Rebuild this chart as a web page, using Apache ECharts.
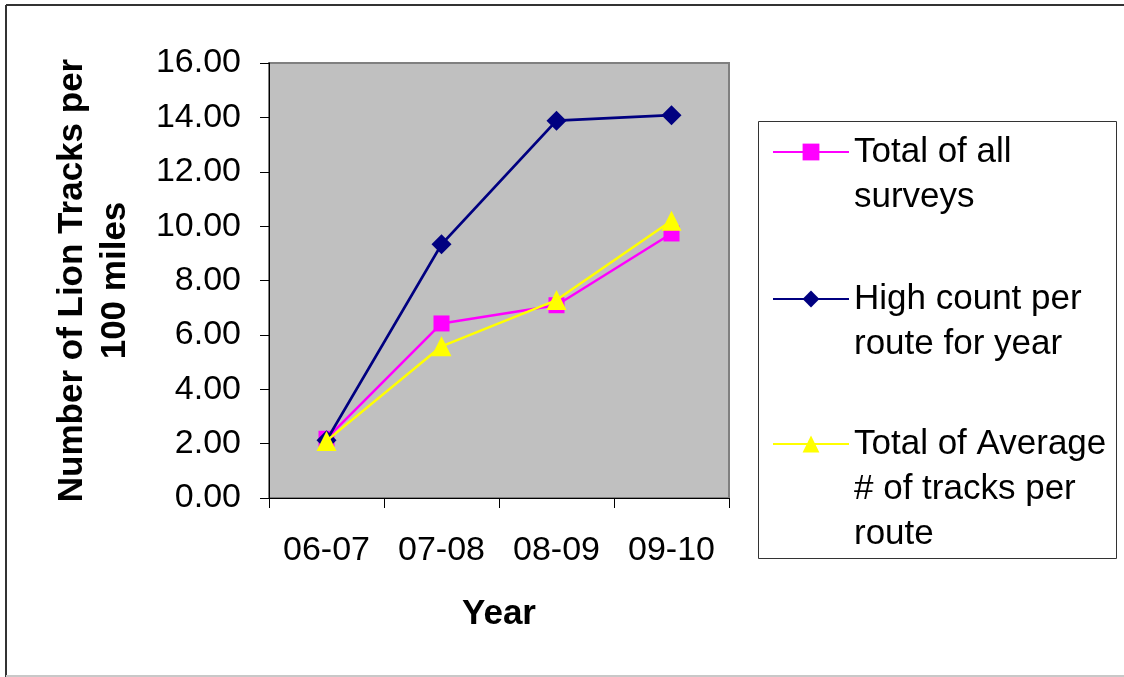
<!DOCTYPE html>
<html>
<head>
<meta charset="utf-8">
<script src="https://cdn.jsdelivr.net/npm/echarts@6/dist/echarts.min.js"></script>
<style>
  html, body { margin: 0; padding: 0; background: #ffffff; }
  #chart { width: 1124px; height: 677px; }
</style>
</head>
<body>
<div id="chart"></div>
<script>
// Lion track survey: tracks per 100 miles by survey season
const years = ['06-07', '07-08', '08-09', '09-10'];
const totalAllSurveys = [2.18, 6.42, 7.09, 9.73];
const highCountPerRoute = [2.12, 9.33, 13.88, 14.08];
const totalAverageTracks = [2.10, 5.58, 7.28, 10.20];

const seriesNames = [
  'Total of all\nsurveys',
  'High count per\nroute for year',
  'Total of Average\n# of tracks per\nroute'
];

const FONT = '"Liberation Sans", Arial, sans-serif';
const LINE_H = 45;

// One legend block per series; blank lines are prepended so the
// marker lines up with the first line of each wrapped label.
function legendBlock(name, markerY) {
  const lines = name.split('\n').length;
  const total = lines * 2 - 1;
  return {
    show: true,
    data: [name],
    left: 772,
    top: markerY - (total * LINE_H) / 2,
    orient: 'vertical',
    padding: 0,
    itemWidth: 76,
    itemHeight: 21,
    selectedMode: false,
    formatter: n => '\n'.repeat(lines - 1) + n,
    textStyle: {
      fontFamily: FONT,
      fontSize: 35,
      color: '#000',
      lineHeight: LINE_H
    }
  };
}

const chart = echarts.init(document.getElementById('chart'), null, { renderer: 'canvas' });

chart.setOption({
  backgroundColor: '#ffffff',
  animation: false,
  graphic: [
    { type: 'line', shape: { x1: 6, y1: 5, x2: 1124, y2: 5 }, style: { stroke: '#333', lineWidth: 2 } },
    { type: 'line', shape: { x1: 6, y1: 5, x2: 6, y2: 677 }, style: { stroke: '#333', lineWidth: 2 } },
    { type: 'line', shape: { x1: 6, y1: 676, x2: 1124, y2: 676 }, style: { stroke: '#c8c8c8', lineWidth: 2 } },
    { type: 'rect', shape: { x: 758.5, y: 121.5, width: 358, height: 437 }, style: { fill: 'none', stroke: '#333', lineWidth: 1 } }
  ],
  legend: [
    legendBlock(seriesNames[0], 152),
    legendBlock(seriesNames[1], 299),
    legendBlock(seriesNames[2], 444)
  ],
  grid: {
    left: 269,
    top: 63,
    right: 395,
    bottom: 179,
    show: true,
    backgroundColor: '#c0c0c0',
    borderColor: '#808080',
    borderWidth: 2
  },
  xAxis: {
    type: 'category',
    data: years,
    boundaryGap: true,
    name: 'Year',
    nameLocation: 'middle',
    nameGap: 99,
    nameTextStyle: { fontFamily: FONT, fontSize: 35, fontWeight: 'bold', color: '#000' },
    axisLine: { lineStyle: { color: '#000', width: 1 } },
    axisTick: { show: true, length: 10, lineStyle: { color: '#000' } },
    axisLabel: { fontFamily: FONT, fontSize: 34, color: '#000', margin: 36 },
    splitLine: { show: false }
  },
  yAxis: {
    type: 'value',
    min: 0,
    max: 16,
    interval: 2,
    name: 'Number of Lion Tracks per\n100 miles',
    nameLocation: 'middle',
    nameGap: 132,
    nameTextStyle: { fontFamily: FONT, fontSize: 35, fontWeight: 'bold', color: '#000', lineHeight: 43, align: 'center' },
    axisLine: { show: true, lineStyle: { color: '#000', width: 1 } },
    axisTick: { show: true, length: 9, lineStyle: { color: '#000' } },
    axisLabel: {
      fontFamily: FONT, fontSize: 34, color: '#000', margin: 28,
      formatter: v => v.toFixed(2)
    },
    splitLine: { show: false }
  },
  series: [
    {
      name: seriesNames[0],
      type: 'line',
      data: totalAllSurveys,
      symbol: 'rect',
      symbolSize: 16,
      color: '#ff00ff',
      lineStyle: { color: '#ff00ff', width: 2.5 },
      itemStyle: { color: '#ff00ff' },
      z: 2
    },
    {
      name: seriesNames[1],
      type: 'line',
      data: highCountPerRoute,
      symbol: 'diamond',
      symbolSize: 20,
      color: '#000080',
      lineStyle: { color: '#000080', width: 2.8 },
      itemStyle: { color: '#000080' },
      z: 3
    },
    {
      name: seriesNames[2],
      type: 'line',
      data: totalAverageTracks,
      symbol: 'triangle',
      symbolSize: 20,
      color: '#ffff00',
      lineStyle: { color: '#ffff00', width: 2.5 },
      itemStyle: { color: '#ffff00' },
      z: 4
    }
  ]
});
</script>
</body>
</html>
